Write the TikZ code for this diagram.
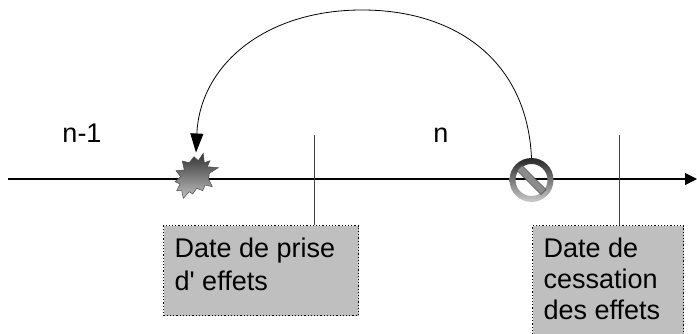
\documentclass[tikz,border=0pt]{standalone}
\usepackage{fontspec}
\setmainfont[Ligatures=TeXOff]{Liberation Sans}
\usetikzlibrary{arrows.meta}
\tikzset{
  x=1pt,y=-1pt,
  axisline/.style={draw=black,line width=1.1pt},
  tickline/.style={draw=black!75,line width=1pt},
  notebox/.style={draw=black,dotted,line width=1.2pt,fill=black!25,anchor=north west,inner sep=0pt,font=\fontsize{27}{31}\selectfont},
  axislabel/.style={font=\fontsize{27}{30}\selectfont,inner sep=0pt,anchor=base},
  icon/.style={top color=black!80,bottom color=black!25,draw=black!70,line width=.5pt},
}
\newcommand{\boxtext}[3]{\parbox[c][#2pt][t]{#1pt}{\vspace{12pt}\raggedright\leftskip=11pt #3\par}}
\begin{document}
\begin{tikzpicture}
\useasboundingbox (0,0) rectangle (697,334);
\clip (0,0) rectangle (697,334);
\coordinate (axisL) at (8,179);
\coordinate (axisR) at (697,179);
\coordinate (tickA) at (314,135);
\coordinate (tickB) at (619,135);
\coordinate (burstTop) at (196,152.5);
\draw[axisline,-{Triangle[length=12pt,width=12pt]}] (axisL) -- (axisR);
\node[notebox] (boxA) at (163,225) {\boxtext{195}{90}{Date de prise\\[2pt]d' effets}};
\node[notebox] (boxB) at (532,225) {\boxtext{151}{125}{Date de\\cessation\\des effets}};
\draw[tickline] (tickA) -- (tickA |- boxA.north);
\draw[tickline] (tickB) -- (tickB |- boxB.north);
\node[axislabel] (nprev) at (82,143) {n-1};
\node[axislabel] (ncur) at (441,143) {n};
% burst
\path[icon] (194,156.7)--(198.3,160.7)--(203.3,153.3)--(204.3,162.7)--(210,160.7)--(207.3,166.7)--(218.3,167.7)--(209.3,173.3)--(208.7,179.3)--(212.3,186.7)--(205,185)--(202.7,190.7)--(196.7,188.3)--(192.7,194)--(189.3,191.7)--(183.3,198.3)--(181.7,190.7)--(176.7,190.7)--(180,184)--(175,181.7)--(180.7,176.7)--(176,170.7)--(184.3,170)--(182.3,161)--(189.3,162.7)--cycle;
% prohibition sign
\node[circle,minimum size=44pt,inner sep=0pt] (forbid) at (531.5,180) {};
\path[top color=black!85,bottom color=black!20,even odd rule] (forbid.center) circle[radius=22] (forbid.center) circle[radius=16];
\path[draw=black!70,line width=.5pt,fill=black!45,rotate around={-45:(forbid.center)}] ([xshift=-17pt,yshift=-3.5pt]forbid.center) rectangle ([xshift=17pt,yshift=3.5pt]forbid.center);
\draw[line width=.8pt,-{Triangle[length=19pt,width=13pt]}] (forbid.north) .. controls (527,60) and (455,10) .. (362,10) .. controls (265,10) and (200,65) .. (burstTop);
\end{tikzpicture}
\end{document}
